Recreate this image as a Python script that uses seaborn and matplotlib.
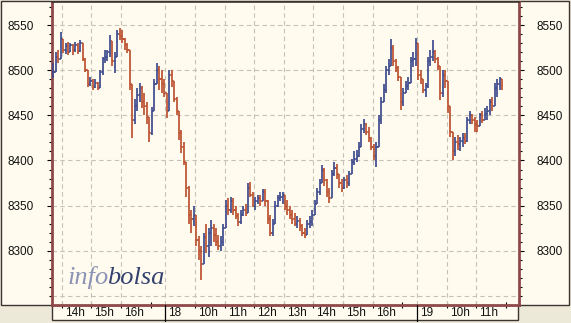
import numpy as np
import pandas as pd
import matplotlib
matplotlib.use("Agg")
import matplotlib.pyplot as plt
import seaborn as sns
from matplotlib.patches import Rectangle

# ---------------- data (5-minute OHLC bars, open = previous close) ----------------
# session 1: 13:40 -> 17:30, session 2 ("18"): 09:00 -> 17:30, session 3 ("19"): 09:00 -> ...
first_open = 8492

d1_close = [8498, 8515, 8512, 8535, 8522, 8527, 8520, 8528, 8522, 8528, 8521, 8530,
            8512, 8500, 8485, 8488, 8481, 8486, 8480, 8498, 8512, 8515, 8520, 8532,
            8510, 8515, 8540, 8538, 8535, 8528, 8522, 8485, 8445, 8460, 8472, 8480,
            8465, 8460, 8448, 8430, 8455, 8485, 8500, 8490, 8485, 8475]
d1_high = [8508, 8520, 8522, 8542, 8533, 8530, 8531, 8530, 8529, 8531, 8530, 8533,
           8530, 8514, 8500, 8492, 8490, 8490, 8487, 8500, 8515, 8522, 8522, 8539,
           8530, 8520, 8545, 8547, 8545, 8536, 8530, 8522, 8470, 8468, 8480, 8486,
           8482, 8475, 8465, 8445, 8459, 8490, 8508, 8505, 8500, 8490]
d1_low = [8491, 8505, 8508, 8518, 8519, 8518, 8517, 8520, 8517, 8520, 8518, 8520,
          8510, 8498, 8481, 8482, 8478, 8480, 8478, 8480, 8495, 8508, 8510, 8515,
          8505, 8497, 8515, 8533, 8530, 8522, 8519, 8478, 8425, 8440, 8455, 8465,
          8458, 8450, 8440, 8421, 8428, 8455, 8485, 8478, 8475, 8470]

d2_close = [8455, 8495, 8488, 8468, 8455, 8430, 8415, 8398, 8370, 8340, 8335, 8340,
            8312, 8300, 8285, 8315, 8305, 8320, 8325, 8318, 8310, 8305, 8310, 8325,
            8350, 8345, 8355, 8345, 8338, 8332, 8340, 8345, 8342, 8370, 8362, 8350,
            8355, 8358, 8355, 8365, 8355, 8335, 8320, 8330, 8350, 8358, 8360, 8362,
            8350, 8345, 8340, 8335, 8330, 8333, 8328, 8320, 8318, 8330, 8332, 8340,
            8352, 8365, 8375, 8390, 8378, 8365, 8358, 8385, 8392, 8385, 8375, 8370,
            8378, 8375, 8385, 8398, 8402, 8405, 8415, 8435, 8440, 8432, 8425, 8415,
            8405, 8415, 8445, 8465, 8478, 8500, 8505, 8525, 8510, 8502, 8492, 8465,
            8475, 8482, 8486, 8510, 8512, 8530]
d2_high = [8470, 8500, 8500, 8485, 8470, 8450, 8434, 8420, 8390, 8372, 8345, 8350,
           8340, 8316, 8305, 8320, 8330, 8325, 8334, 8330, 8325, 8318, 8316, 8330,
           8356, 8358, 8360, 8358, 8350, 8342, 8345, 8350, 8352, 8375, 8376, 8365,
           8360, 8362, 8362, 8368, 8368, 8356, 8340, 8335, 8355, 8362, 8365, 8365,
           8362, 8356, 8350, 8345, 8342, 8338, 8336, 8330, 8325, 8334, 8338, 8345,
           8356, 8370, 8380, 8395, 8392, 8380, 8370, 8390, 8398, 8396, 8385, 8380,
           8382, 8384, 8388, 8402, 8410, 8412, 8420, 8440, 8446, 8442, 8437, 8426,
           8418, 8420, 8450, 8470, 8485, 8505, 8512, 8535, 8528, 8512, 8505, 8490,
           8480, 8488, 8492, 8515, 8520, 8536]
d2_low = [8447, 8455, 8481, 8465, 8450, 8423, 8408, 8395, 8360, 8330, 8320, 8327,
          8305, 8290, 8268, 8290, 8298, 8293, 8305, 8310, 8305, 8301, 8300, 8305,
          8325, 8340, 8342, 8340, 8335, 8328, 8330, 8338, 8338, 8345, 8360, 8348,
          8345, 8352, 8350, 8355, 8350, 8330, 8316, 8316, 8330, 8348, 8355, 8352,
          8345, 8340, 8335, 8330, 8327, 8325, 8322, 8316, 8314, 8318, 8325, 8328,
          8340, 8352, 8362, 8378, 8372, 8360, 8353, 8360, 8383, 8380, 8370, 8365,
          8368, 8370, 8372, 8385, 8395, 8398, 8404, 8415, 8430, 8428, 8420, 8412,
          8400, 8393, 8420, 8440, 8465, 8475, 8495, 8505, 8505, 8498, 8488, 8456,
          8460, 8475, 8478, 8490, 8503, 8505]

d3_close = [8495, 8490, 8478, 8482, 8510, 8515, 8520, 8512, 8505, 8475, 8495, 8488,
            8460, 8432, 8410, 8420, 8418, 8422, 8425, 8422, 8445, 8450, 8445, 8440,
            8438, 8450, 8445, 8452, 8455, 8465, 8460, 8480, 8485, 8490, 8482]
d3_high = [8510, 8500, 8490, 8486, 8515, 8522, 8533, 8522, 8515, 8490, 8500, 8500,
           8486, 8456, 8430, 8426, 8428, 8426, 8430, 8430, 8448, 8455, 8452, 8448,
           8445, 8453, 8455, 8458, 8460, 8468, 8470, 8486, 8490, 8493, 8490]
d3_low = [8489, 8485, 8475, 8470, 8480, 8505, 8510, 8508, 8500, 8467, 8470, 8480,
          8453, 8426, 8401, 8405, 8412, 8410, 8415, 8418, 8420, 8440, 8440, 8432,
          8432, 8438, 8441, 8445, 8445, 8450, 8455, 8465, 8470, 8478, 8478]

session_hours = [3 + 50 / 60, 8.5, 3 + 27 / 60]     # length of each visible session
session_start = [13 + 40 / 60, 9.0, 9.0]            # clock time of session start
day_labels = ["", "18", "19"]
hour_ticks = [[14, 15, 16, 17], [10, 11, 12, 13, 14, 15, 16, 17], [10, 11, 12]]
hour_labels = [["14h", "15h", "16h", ""],
               ["10h", "11h", "12h", "13h", "14h", "15h", "16h", ""],
               ["10h", "11h", ""]]
yticks = [8250, 8300, 8350, 8400, 8450, 8500, 8550]

# ---------------- build dataframe ----------------
offsets = np.concatenate([[0], np.cumsum(session_hours)[:-1]])
rows = []
for s, (c, h, l) in enumerate([(d1_close, d1_high, d1_low),
                               (d2_close, d2_high, d2_low),
                               (d3_close, d3_high, d3_low)]):
    for i in range(len(c)):
        rows.append(dict(t=offsets[s] + (i + 0.5) / 12, close=c[i], high=h[i], low=l[i]))
df = pd.DataFrame(rows)
df["open"] = df["close"].shift(1).fillna(first_open)
df["high"] = df[["high", "open", "close"]].max(axis=1)
df["low"] = df[["low", "open", "close"]].min(axis=1)
df["up"] = df["close"] >= df["open"]

# ---------------- style ----------------
sns.set_theme(style="white")
plt.rcParams["font.family"] = ["Liberation Sans", "DejaVu Sans"]

W, H = 571, 323
CREAM = "#FFFCEF"
GRAY = "#ECE9D9"
MAROON = "#8E4A4A"
DARK = "#3C3430"
RED = "#BC5230"
BLUE = "#3F4B8E"
GRID = "#C6C2B6"

fig = plt.figure(figsize=(W / 100, H / 100), dpi=100, facecolor=GRAY)

def px(x, y):
    return x / W, 1 - y / H

# background panels
x0, y0 = px(0.5, 305)
fig.add_artist(Rectangle((x0, y0), 568.5 / W, 304 / H, transform=fig.transFigure,
                         facecolor=CREAM, edgecolor=DARK, linewidth=1.0, zorder=0))
x0, y0 = px(52, 320)
fig.add_artist(Rectangle((x0, y0), (518 - 52) / W, 15 / H, transform=fig.transFigure,
                         facecolor=CREAM, edgecolor=DARK, linewidth=1.0, zorder=0))

ax = fig.add_axes([52 / W, 1 - 305 / H, (519 - 52) / W, (305 - 2) / H])
ax.set_facecolor(CREAM)
ax.set_xlim(0, sum(session_hours))
ax.set_ylim(8240, 8575.5)

# gridlines
for yv in yticks:
    ax.axhline(yv, color=GRID, lw=0.8, ls=(0, (4, 3)), zorder=1)
grid_t = []
tick_t = []
for s in range(3):
    if s > 0:
        grid_t.append(offsets[s])
    for hh, lab in zip(hour_ticks[s], hour_labels[s]):
        tt = offsets[s] + hh - session_start[s]
        tick_t.append(tt)
        if lab:
            grid_t.append(tt)
for tt in grid_t:
    ax.axvline(tt, color=GRID, lw=0.8, ls=(0, (4, 3)), zorder=1)

# OHLC bars
dt = 1.3 / 29.6
colors = np.where(df["up"], BLUE, RED)
ax.vlines(df["t"], df["low"], df["high"], colors=colors, lw=1.25, zorder=3)
ax.hlines(df["open"], df["t"] - dt, df["t"], colors=colors, lw=1.1, zorder=3)
ax.hlines(df["close"], df["t"], df["t"] + dt, colors=colors, lw=1.1, zorder=3)

# spines
for side in ["left", "right", "bottom"]:
    ax.spines[side].set_color(MAROON)
    ax.spines[side].set_linewidth(2.0)
ax.spines["top"].set_color(DARK)
ax.spines["top"].set_linewidth(1.2)

# y ticks both sides
ax.set_yticks(yticks[1:])
ax.set_yticklabels([str(v) for v in yticks[1:]])
ax.set_yticks(np.arange(8250, 8571, 10), minor=True)
ax.tick_params(axis="y", which="major", left=True, right=True, labelleft=True,
               labelright=True, direction="out", length=3.8, width=0.8, color="black",
               pad=9, labelsize=8.5, labelcolor="#111111")
ax.tick_params(axis="y", which="minor", left=True, right=True, direction="out",
               length=1.9, width=0.8, color="black")

# x ticks
ax.set_xticks(tick_t)
ax.set_xticklabels([""] * len(tick_t))
ax.tick_params(axis="x", which="major", bottom=True, direction="inout", length=4.5,
               width=0.8, color="black")

# hour labels and day separators in the strip
xt = ax.get_xaxis_transform()
for s in range(3):
    if s > 0:
        ax.plot([offsets[s], offsets[s]], [0, -16 / 303], transform=xt, clip_on=False,
                color="black", lw=0.9, zorder=5)
        ax.annotate(day_labels[s], xy=(offsets[s], 0), xycoords=xt, xytext=(2.0, -6.0),
                    textcoords="offset points", ha="left", va="center", fontsize=8.5,
                    color="#111111", annotation_clip=False)
    for hh, lab in zip(hour_ticks[s], hour_labels[s]):
        if lab:
            tt = offsets[s] + hh - session_start[s]
            ax.annotate(lab, xy=(tt, 0), xycoords=xt, xytext=(2.2, -6.0),
                        textcoords="offset points", ha="left", va="center",
                        fontsize=8.5, color="#111111", annotation_clip=False)

# watermark
bx, by = px(68, 284)
fig.text(bx, by, "info", fontsize=19, family="Liberation Serif", style="italic",
         color="#8D93B6", va="baseline", ha="left", zorder=2)
bx, by = px(107, 284)
fig.text(bx, by, "bolsa", fontsize=19, family="Liberation Serif", style="italic",
         color="#34416F", va="baseline", ha="left", zorder=2)

fig.savefig("out.png", dpi=100, facecolor=GRAY)
